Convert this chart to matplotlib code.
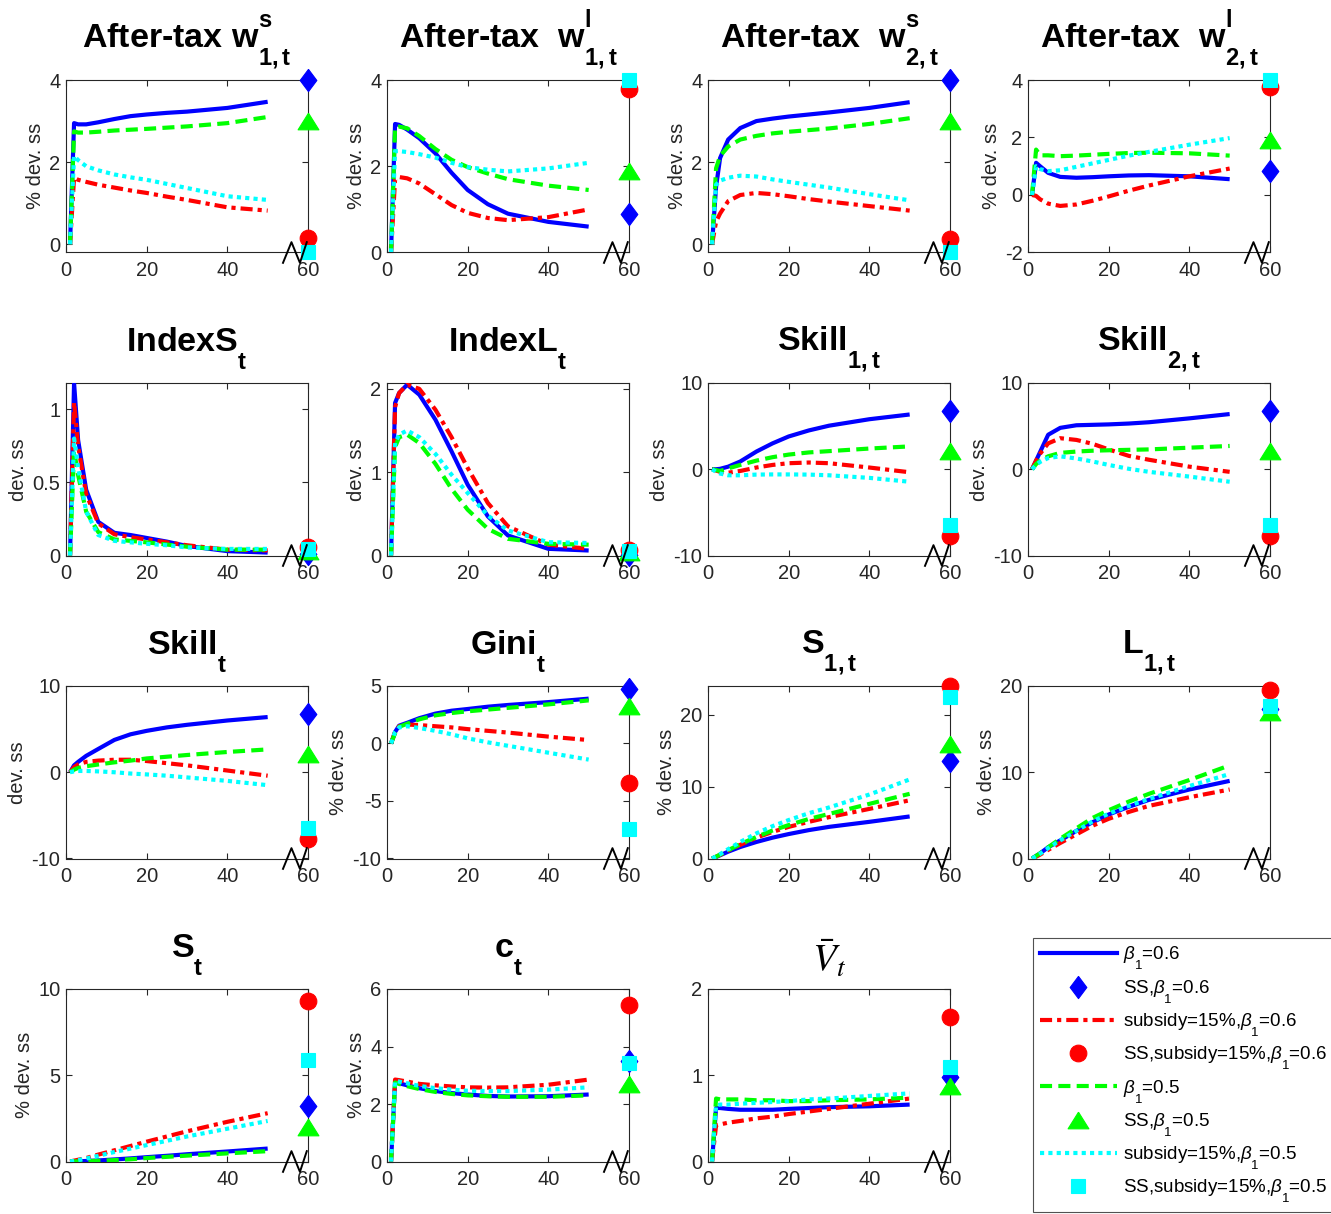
import matplotlib
matplotlib.use("Agg")
import matplotlib.pyplot as plt
from matplotlib import _mathtext
from matplotlib.lines import Line2D
from matplotlib.ticker import FormatStrFormatter
from matplotlib.transforms import blended_transform_factory

plt.rcParams["font.family"] = ["Liberation Sans", "DejaVu Sans"]
plt.rcParams["mathtext.fontset"] = "custom"
plt.rcParams["mathtext.rm"] = "Liberation Sans"
plt.rcParams["mathtext.it"] = "Liberation Sans:italic"
plt.rcParams["mathtext.bf"] = "Liberation Sans:bold"
plt.rcParams["axes.unicode_minus"] = False

# MATLAB puts sub/superscripts much further from the baseline than mathtext does
_mathtext.FontConstantsBase.sub1 = 1.05
_mathtext.FontConstantsBase.sub2 = 1.0
_mathtext.FontConstantsBase.sup1 = 1.15
_mathtext.STIXFontConstants.sub1 = 0.3

T = [1, 2, 3, 5, 8, 12, 16, 20, 25, 30, 40, 50]
SS_X = 60

# steady state markers are listed as [beta=0.6, subsidy beta=0.6, beta=0.5, subsidy beta=0.5]
w1s_b = [0, 2.95, 2.92, 2.92, 2.97, 3.05, 3.12, 3.16, 3.2, 3.23, 3.32, 3.47]
w1s_r = [0, 1.62, 1.57, 1.52, 1.45, 1.38, 1.31, 1.25, 1.16, 1.08, 0.9, 0.82]
w1s_g = [0, 2.75, 2.72, 2.72, 2.74, 2.77, 2.79, 2.81, 2.84, 2.87, 2.95, 3.1]
w1s_c = [0, 2.15, 2.05, 1.9, 1.8, 1.7, 1.63, 1.57, 1.47, 1.37, 1.17, 1.08]
w1s_ss = [4.0, 0.15, 3.0, -0.2]

w1l_b = [0, 2.98, 2.96, 2.85, 2.65, 2.3, 1.85, 1.45, 1.12, 0.9, 0.71, 0.6]
w1l_r = [0, 1.7, 1.75, 1.72, 1.6, 1.35, 1.1, 0.92, 0.8, 0.75, 0.82, 1.0]
w1l_g = [0, 2.9, 2.92, 2.88, 2.7, 2.4, 2.15, 1.98, 1.83, 1.7, 1.55, 1.45]
w1l_c = [0, 2.35, 2.35, 2.33, 2.28, 2.2, 2.08, 1.98, 1.92, 1.88, 1.95, 2.08]
w1l_ss = [0.9, 3.8, 1.9, 4.0]

w2s_b = [0, 1.4, 2.1, 2.55, 2.83, 3.0, 3.06, 3.11, 3.16, 3.21, 3.32, 3.46]
w2s_r = [0, 0.55, 0.75, 1.05, 1.2, 1.25, 1.22, 1.17, 1.1, 1.04, 0.93, 0.82]
w2s_g = [0, 1.85, 2.15, 2.38, 2.55, 2.64, 2.7, 2.74, 2.78, 2.82, 2.93, 3.07]
w2s_c = [0, 1.45, 1.55, 1.62, 1.67, 1.65, 1.58, 1.52, 1.45, 1.38, 1.22, 1.07]
w2s_ss = [4.0, 0.12, 3.0, -0.2]

w2l_b = [0, 1.12, 1.0, 0.77, 0.63, 0.6, 0.62, 0.65, 0.68, 0.69, 0.65, 0.55]
w2l_r = [0, -0.03, -0.15, -0.3, -0.38, -0.33, -0.2, -0.05, 0.15, 0.33, 0.65, 0.92]
w2l_g = [0, 1.58, 1.38, 1.38, 1.35, 1.37, 1.4, 1.43, 1.46, 1.47, 1.45, 1.37]
w2l_c = [0, 1.0, 0.9, 0.83, 0.86, 0.98, 1.1, 1.22, 1.37, 1.5, 1.75, 1.98]
w2l_ss = [0.85, 3.75, 1.9, 4.0]

idxs_b = [0, 1.18, 0.79, 0.45, 0.23, 0.155, 0.14, 0.12, 0.095, 0.065, 0.03, 0.02]
idxs_r = [0, 1.05, 0.75, 0.42, 0.22, 0.145, 0.125, 0.11, 0.09, 0.07, 0.04, 0.035]
idxs_g = [0, 0.72, 0.55, 0.3, 0.16, 0.11, 0.1, 0.09, 0.075, 0.06, 0.04, 0.04]
idxs_c = [0, 0.8, 0.6, 0.3, 0.14, 0.1, 0.09, 0.08, 0.07, 0.055, 0.045, 0.045]
idxs_ss = [0.01, 0.06, 0.03, 0.045]

idxl_b = [0, 1.83, 1.95, 2.05, 1.93, 1.63, 1.25, 0.85, 0.47, 0.24, 0.08, 0.06]
idxl_r = [0, 1.78, 1.95, 2.05, 2.0, 1.75, 1.42, 1.05, 0.63, 0.35, 0.13, 0.08]
idxl_g = [0, 1.3, 1.42, 1.45, 1.35, 1.1, 0.8, 0.55, 0.32, 0.2, 0.14, 0.13]
idxl_c = [0, 1.35, 1.45, 1.5, 1.42, 1.22, 0.97, 0.75, 0.48, 0.3, 0.16, 0.15]
idxl_ss = [0.01, 0.07, 0.04, 0.05]

sk1_b = [0, 0.0, 0.05, 0.3, 0.9, 2.05, 3.0, 3.8, 4.5, 5.05, 5.8, 6.35]
sk1_r = [0, -0.15, -0.3, -0.4, -0.2, 0.2, 0.5, 0.7, 0.78, 0.7, 0.2, -0.35]
sk1_g = [0, -0.1, -0.2, 0.1, 0.5, 1.0, 1.4, 1.7, 1.95, 2.1, 2.4, 2.65]
sk1_c = [0, -0.3, -0.5, -0.7, -0.7, -0.62, -0.6, -0.6, -0.62, -0.7, -1.0, -1.45]
sk1_ss = [6.8, -7.7, 2.1, -6.5]

sk2_b = [0, 1.0, 2.0, 4.0, 4.8, 5.1, 5.15, 5.2, 5.3, 5.45, 5.9, 6.4]
sk2_r = [0, 1.0, 1.8, 3.0, 3.6, 3.4, 2.95, 2.3, 1.55, 1.1, 0.3, -0.3]
sk2_g = [0, 0.6, 1.0, 1.5, 1.9, 2.05, 2.15, 2.2, 2.25, 2.3, 2.5, 2.7]
sk2_c = [0, 0.5, 0.85, 1.3, 1.5, 1.25, 0.9, 0.5, 0.05, -0.3, -0.85, -1.45]
sk2_ss = [6.8, -7.7, 2.1, -6.5]

sk_b = [0, 0.8, 1.2, 1.9, 2.7, 3.75, 4.4, 4.8, 5.2, 5.5, 6.0, 6.4]
sk_r = [0, 0.6, 0.9, 1.2, 1.35, 1.45, 1.45, 1.3, 1.05, 0.8, 0.2, -0.4]
sk_g = [0, 0.3, 0.5, 0.7, 0.9, 1.15, 1.35, 1.6, 1.8, 2.0, 2.35, 2.65]
sk_c = [0, 0.1, 0.15, 0.15, 0.1, 0.0, -0.15, -0.25, -0.4, -0.6, -1.0, -1.5]
sk_ss = [6.8, -7.7, 2.1, -6.5]

gini_b = [0, 1.0, 1.55, 1.8, 2.2, 2.6, 2.85, 3.0, 3.2, 3.35, 3.6, 3.9]
gini_r = [0, 1.0, 1.5, 1.65, 1.6, 1.5, 1.4, 1.25, 1.1, 0.95, 0.6, 0.3]
gini_g = [0, 0.9, 1.45, 1.72, 2.1, 2.45, 2.65, 2.8, 2.95, 3.1, 3.4, 3.75]
gini_c = [0, 1.0, 1.4, 1.5, 1.35, 1.1, 0.8, 0.45, 0.1, -0.2, -0.8, -1.4]
gini_ss = [4.7, -3.4, 3.3, -7.4]

s1_b = [0, 0.2, 0.45, 0.95, 1.6, 2.3, 2.9, 3.4, 3.95, 4.4, 5.1, 5.85]
s1_r = [0, 0.25, 0.5, 1.1, 1.9, 2.9, 3.7, 4.4, 5.1, 5.75, 6.9, 8.1]
s1_g = [0, 0.25, 0.55, 1.15, 2.0, 3.0, 3.9, 4.65, 5.5, 6.2, 7.6, 9.0]
s1_c = [0, 0.3, 0.6, 1.3, 2.3, 3.5, 4.5, 5.35, 6.3, 7.1, 8.9, 11.0]
s1_ss = [13.6, 24.0, 16.0, 22.5]

l1_b = [0, 0.3, 0.6, 1.3, 2.1, 3.2, 4.2, 5.1, 6.0, 6.8, 8.0, 9.0]
l1_r = [0, 0.2, 0.45, 1.0, 1.8, 2.8, 3.8, 4.6, 5.4, 6.1, 7.1, 8.0]
l1_g = [0, 0.3, 0.6, 1.3, 2.3, 3.5, 4.7, 5.6, 6.6, 7.5, 9.1, 10.8]
l1_c = [0, 0.25, 0.55, 1.2, 2.1, 3.2, 4.3, 5.2, 6.1, 6.9, 8.4, 9.8]
l1_ss = [17.3, 19.5, 17.0, 17.7]

st_b = [0, 0.0, 0.01, 0.03, 0.06, 0.12, 0.18, 0.25, 0.33, 0.42, 0.58, 0.75]
st_r = [0, 0.05, 0.1, 0.2, 0.4, 0.65, 0.9, 1.15, 1.45, 1.75, 2.3, 2.8]
st_g = [0, 0.0, 0.01, 0.02, 0.04, 0.08, 0.13, 0.2, 0.27, 0.34, 0.47, 0.6]
st_c = [0, 0.04, 0.08, 0.17, 0.33, 0.55, 0.75, 0.95, 1.2, 1.45, 1.9, 2.35]
st_ss = [3.2, 9.3, 2.0, 5.9]

ct_b = [0, 2.75, 2.72, 2.65, 2.55, 2.45, 2.38, 2.33, 2.28, 2.26, 2.27, 2.33]
ct_r = [0, 2.85, 2.83, 2.78, 2.7, 2.65, 2.61, 2.58, 2.57, 2.58, 2.67, 2.85]
ct_g = [0, 2.75, 2.7, 2.62, 2.52, 2.42, 2.35, 2.3, 2.27, 2.25, 2.25, 2.3]
ct_c = [0, 2.8, 2.78, 2.72, 2.63, 2.55, 2.5, 2.46, 2.45, 2.45, 2.5, 2.58]
ct_ss = [3.5, 5.45, 2.7, 3.42]

vt_b = [0, 0.62, 0.62, 0.61, 0.6, 0.6, 0.6, 0.61, 0.62, 0.63, 0.64, 0.66]
vt_r = [0, 0.42, 0.43, 0.45, 0.47, 0.5, 0.52, 0.55, 0.58, 0.61, 0.67, 0.73]
vt_g = [0, 0.73, 0.72, 0.72, 0.72, 0.71, 0.71, 0.7, 0.7, 0.71, 0.72, 0.74]
vt_c = [0, 0.65, 0.66, 0.66, 0.67, 0.68, 0.69, 0.7, 0.72, 0.73, 0.76, 0.79]
vt_ss = [0.98, 1.67, 0.87, 1.1]

PCT = "% dev. ss"
DEV = "dev. ss"

# title, ylabel, ylim, yticks, series, steady states
panels = [
    (r"After-tax $\mathbf{w}^{\mathbf{s}}_{\mathbf{1,t}}$", PCT, (-0.2, 4), [0, 2, 4], (w1s_b, w1s_r, w1s_g, w1s_c), w1s_ss),
    (r"After-tax  $\mathbf{w}^{\mathbf{l}}_{\mathbf{1,t}}$", PCT, (0, 4), [0, 2, 4], (w1l_b, w1l_r, w1l_g, w1l_c), w1l_ss),
    (r"After-tax  $\mathbf{w}^{\mathbf{s}}_{\mathbf{2,t}}$", PCT, (-0.2, 4), [0, 2, 4], (w2s_b, w2s_r, w2s_g, w2s_c), w2s_ss),
    (r"After-tax  $\mathbf{w}^{\mathbf{l}}_{\mathbf{2,t}}$", PCT, (-2, 4), [-2, 0, 2, 4], (w2l_b, w2l_r, w2l_g, w2l_c), w2l_ss),
    (r"IndexS$_{\mathbf{t}}$", DEV, (0, 1.18), [0, 0.5, 1], (idxs_b, idxs_r, idxs_g, idxs_c), idxs_ss),
    (r"IndexL$_{\mathbf{t}}$", DEV, (0, 2.07), [0, 1, 2], (idxl_b, idxl_r, idxl_g, idxl_c), idxl_ss),
    (r"Skill$_{\mathbf{1,t}}$", DEV, (-10, 10), [-10, 0, 10], (sk1_b, sk1_r, sk1_g, sk1_c), sk1_ss),
    (r"Skill$_{\mathbf{2,t}}$", DEV, (-10, 10), [-10, 0, 10], (sk2_b, sk2_r, sk2_g, sk2_c), sk2_ss),
    (r"Skill$_{\mathbf{t}}$", DEV, (-10, 10), [-10, 0, 10], (sk_b, sk_r, sk_g, sk_c), sk_ss),
    (r"Gini$_{\mathbf{t}}$", PCT, (-10, 5), [-10, -5, 0, 5], (gini_b, gini_r, gini_g, gini_c), gini_ss),
    (r"S$_{\mathbf{1,t}}$", PCT, (0, 24), [0, 10, 20], (s1_b, s1_r, s1_g, s1_c), s1_ss),
    (r"L$_{\mathbf{1,t}}$", PCT, (0, 20), [0, 10, 20], (l1_b, l1_r, l1_g, l1_c), l1_ss),
    (r"S$_{\mathbf{t}}$", PCT, (0, 10), [0, 5, 10], (st_b, st_r, st_g, st_c), st_ss),
    (r"c$_{\mathbf{t}}$", PCT, (0, 6), [0, 2, 4, 6], (ct_b, ct_r, ct_g, ct_c), ct_ss),
    (r"$\bar{V}_t$", "", (0, 2), [0, 1, 2], (vt_b, vt_r, vt_g, vt_c), vt_ss),
]

COLORS = ["#0000ff", "#ff0000", "#00ff00", "#00ffff"]
STYLES = ["-", (0, (2.9, 1.2, 1.0, 1.2)), (0, (2.9, 1.5)), (0, (1.0, 1.0))]
DIAMOND = [(0, 1), (0.75, 0), (0, -1), (-0.75, 0), (0, 1)]
TRIANGLE = [(0, 0.8), (1, -0.8), (-1, -0.8), (0, 0.8)]
MARKERS = [(DIAMOND, 16), ("o", 12), (TRIANGLE, 15), ("s", 9.5)]
LABELS = [
    r"$\beta_1$=0.6", r"SS,$\beta_1$=0.6",
    r"subsidy=15%,$\beta_1$=0.6", r"SS,subsidy=15%,$\beta_1$=0.6",
    r"$\beta_1$=0.5", r"SS,$\beta_1$=0.5",
    r"subsidy=15%,$\beta_1$=0.5", r"SS,subsidy=15%,$\beta_1$=0.5",
]

W, H = 1331, 1214
col_x = [66, 387, 708, 1028]
row_top = [80, 383, 686, 989]
ax_w, ax_h = 242, 172.5
SPINE = "#262626"

fig = plt.figure(figsize=(W / 100, H / 100), dpi=100)


def draw_break(ax):
    tr = blended_transform_factory(ax.transData, ax.transAxes)
    ax.plot([53.8, 55.9, 58.0, 59.7], [-0.06, 0.06, -0.06, 0.06], color="black",
            lw=1.4, transform=tr, clip_on=False, zorder=6)


for i, (title, ylab, ylim, yticks, series, ss) in enumerate(panels):
    r, c = divmod(i, 4)
    ax = fig.add_axes([col_x[c] / W, 1 - (row_top[r] + ax_h) / H, ax_w / W, ax_h / H])
    for k in range(4):
        ax.plot(T, series[k], color=COLORS[k], linestyle=STYLES[k], lw=3,
                solid_capstyle="butt", zorder=3)
        m, ms = MARKERS[k]
        ax.plot([SS_X], [ss[k]], linestyle="none", marker=m, markersize=ms,
                color=COLORS[k], markeredgewidth=0.8, clip_on=False, zorder=5)
    ax.set_xlim(0, 60)
    ax.set_ylim(*ylim)
    ax.set_xticks([0, 20, 40, 60])
    ax.set_yticks(yticks)
    ax.yaxis.set_major_formatter(FormatStrFormatter("%g"))
    ax.tick_params(direction="in", top=True, right=True, length=4, width=0.8,
                   labelsize=14.5, colors=SPINE, pad=4)
    ax.tick_params(axis="x", pad=6)
    for sp in ax.spines.values():
        sp.set_color(SPINE)
        sp.set_linewidth(0.8)
    if ylab:
        ax.set_ylabel(ylab, fontsize=14.5, color=SPINE, labelpad=3)
    if title.startswith(r"$\bar"):
        ax.set_title(title, fontsize=28, math_fontfamily="stix", pad=12)
    else:
        ax.set_title(title, fontsize=24.5, fontweight="bold", pad=23)
    draw_break(ax)

handles = []
for k in range(4):
    m, ms = MARKERS[k]
    handles.append(Line2D([0], [0], color=COLORS[k], linestyle=STYLES[k], lw=3))
    handles.append(Line2D([0], [0], color=COLORS[k], linestyle="none", marker=m,
                          markersize=ms, markeredgewidth=0.8))

leg = fig.legend(handles, LABELS, loc="lower left", bbox_to_anchor=(1033 / W, 2 / H),
                 fontsize=13.5, frameon=True, fancybox=False, edgecolor=SPINE,
                 handlelength=4.15, handletextpad=0.3, labelspacing=0.31,
                 borderpad=0.35, borderaxespad=0)
leg.get_frame().set_linewidth(0.8)

fig.savefig("out.png", dpi=100)
